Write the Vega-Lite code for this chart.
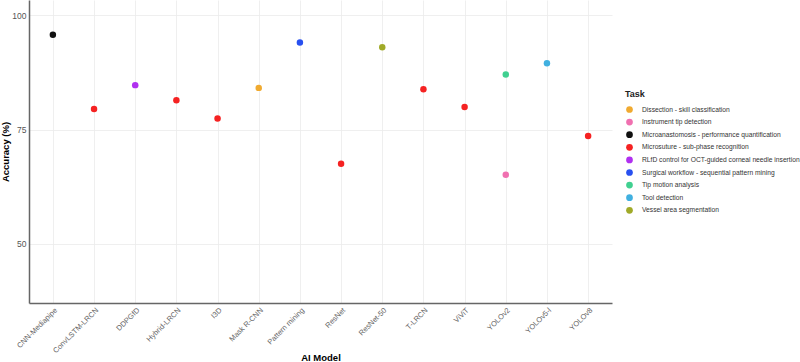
{
  "$schema": "https://vega.github.io/schema/vega-lite/v6.json",
  "width": 583,
  "height": 303,
  "padding": {"left": 0, "top": 0, "right": 0, "bottom": 0},
  "background": "white",
  "config": {
    "view": {"stroke": null},
    "font": "Liberation Sans"
  },
  "data": {
    "values": [
      {"model": "CNN-Mediapipe", "accuracy": 95.7, "task": "Microanastomosis - performance quantification"},
      {"model": "ConvLSTM-LRCN", "accuracy": 79.5, "task": "Microsuture - sub-phase recognition"},
      {"model": "DDPGfD", "accuracy": 84.7, "task": "RLfD control for OCT-guided corneal needle insertion"},
      {"model": "Hybrid-LRCN", "accuracy": 81.4, "task": "Microsuture - sub-phase recognition"},
      {"model": "I3D", "accuracy": 77.4, "task": "Microsuture - sub-phase recognition"},
      {"model": "Mask R-CNN", "accuracy": 84.1, "task": "Dissection - skill classification"},
      {"model": "Pattern mining", "accuracy": 94.0, "task": "Surgical workflow - sequential pattern mining"},
      {"model": "ResNet", "accuracy": 67.5, "task": "Microsuture - sub-phase recognition"},
      {"model": "ResNet-50", "accuracy": 93.0, "task": "Vessel area segmentation"},
      {"model": "T-LRCN", "accuracy": 83.8, "task": "Microsuture - sub-phase recognition"},
      {"model": "ViViT", "accuracy": 79.9, "task": "Microsuture - sub-phase recognition"},
      {"model": "YOLOv2", "accuracy": 87.0, "task": "Tip motion analysis"},
      {"model": "YOLOv2", "accuracy": 65.1, "task": "Instrument tip detection"},
      {"model": "YOLOv5-l", "accuracy": 89.5, "task": "Tool detection"},
      {"model": "YOLOv8", "accuracy": 73.6, "task": "Microsuture - sub-phase recognition"}
    ]
  },
  "mark": {"type": "circle", "size": 42, "opacity": 1},
  "encoding": {
    "x": {
      "field": "model",
      "type": "nominal",
      "sort": "ascending",
      "scale": {"type": "point", "padding": 0.58},
      "axis": {
        "title": "AI Model",
        "titleFontSize": 9.5,
        "titleFontWeight": "bold",
        "titleColor": "#000",
        "titleY": 49,
        "titleBaseline": "top",
        "labelAngle": -45,
        "labelFontSize": 7.5,
        "labelColor": "#666",
        "ticks": false,
        "labelPadding": 3,
        "domainColor": "#666",
        "domainWidth": 1.5,
        "grid": true,
        "gridColor": "#ebebeb",
        "gridWidth": 0.8
      }
    },
    "y": {
      "field": "accuracy",
      "type": "quantitative",
      "scale": {"domain": [37.1, 103.3], "nice": false, "zero": false},
      "axis": {
        "title": "Accuracy (%)",
        "values": [50, 75, 100],
        "titleFontSize": 9.5,
        "titleFontWeight": "bold",
        "titleColor": "#000",
        "titlePadding": 1,
        "labelFontSize": 8.5,
        "labelColor": "#555",
        "ticks": false,
        "labelPadding": 3,
        "domainColor": "#666",
        "domainWidth": 1.5,
        "grid": true,
        "gridColor": "#ebebeb",
        "gridWidth": 0.8
      }
    },
    "color": {
      "field": "task",
      "type": "nominal",
      "title": "Task",
      "scale": {
        "domain": [
          "Dissection - skill classification",
          "Instrument tip detection",
          "Microanastomosis - performance quantification",
          "Microsuture - sub-phase recognition",
          "RLfD control for OCT-guided corneal needle insertion",
          "Surgical workflow - sequential pattern mining",
          "Tip motion analysis",
          "Tool detection",
          "Vessel area segmentation"
        ],
        "range": ["#f0aa30", "#f070b0", "#111111", "#f52222", "#b030f0", "#2850f0", "#40d090", "#40b0e0", "#a0aa28"]
      },
      "legend": {
        "orient": "none",
        "legendX": 596,
        "legendY": 90,
        "titleFontSize": 9,
        "titleFontWeight": "bold",
        "titleColor": "#222",
        "titlePadding": 6,
        "labelFontSize": 6.7,
        "labelColor": "#333",
        "symbolType": "circle",
        "symbolSize": 45,
        "rowPadding": 3.6,
        "labelOffset": 8,
        "labelLimit": 300,
        "padding": 0
      }
    }
  }
}
